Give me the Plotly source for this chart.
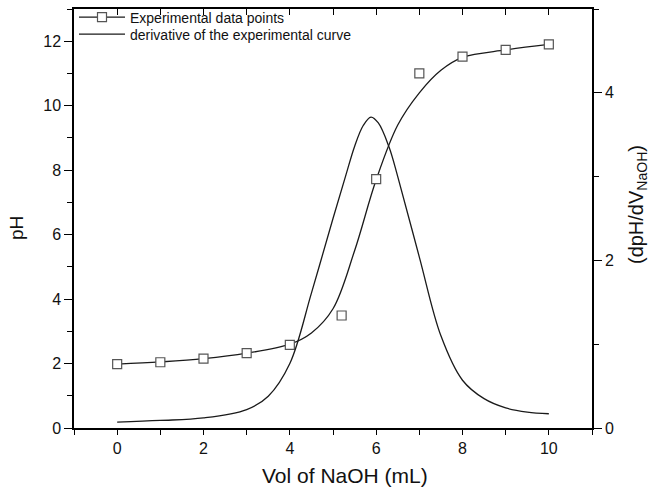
import plotly.graph_objects as go

# Experimental data points
vol_pts = [0, 1, 2, 3, 4, 5.2, 6, 7, 8, 9, 10]
ph_pts = [1.98, 2.04, 2.15, 2.32, 2.58, 3.49, 7.72, 11.0, 11.52, 11.73, 11.9]

# Fitted (smooth) pH curve
vol_fit = [0, 1, 2, 3, 4, 4.5, 5, 5.5, 6, 6.5, 7, 7.5, 8, 9, 10]
ph_fit = [1.98, 2.05, 2.15, 2.32, 2.6, 2.95, 3.7, 5.5, 7.7, 9.4, 10.4, 11.1, 11.5, 11.73, 11.9]

# Derivative curve (right axis)
vol_der = [0, 1, 2, 3, 3.5, 4, 4.5, 5, 5.3, 5.5, 5.7, 5.88, 6.05, 6.3, 6.5, 7, 7.5, 8, 8.5, 9, 9.5, 10]
der = [0.07, 0.09, 0.12, 0.22, 0.38, 0.77, 1.61, 2.5, 3.02, 3.36, 3.61, 3.71, 3.64, 3.35, 3.0, 2.04, 1.1, 0.57, 0.35, 0.24, 0.19, 0.17]

LINE = "#1a1a1a"
FONT = "Liberation Sans, Arial, sans-serif"

fig = go.Figure()

fig.add_trace(go.Scatter(x=vol_fit, y=ph_fit, mode="lines", line=dict(color=LINE, width=1.3, shape="spline"),
                         showlegend=False, hoverinfo="skip"))
fig.add_trace(go.Scatter(x=vol_pts, y=ph_pts, mode="markers",
                         marker=dict(symbol="square", size=9, color="white", line=dict(color="#555555", width=1.2)),
                         showlegend=False))
# legend entries
fig.add_trace(go.Scatter(x=[None], y=[None], mode="lines+markers", name="Experimental data points",
                         line=dict(color=LINE, width=1.3), legend="legend",
                         marker=dict(symbol="square", size=9, color="white", line=dict(color="#555555", width=1.2))))
fig.add_trace(go.Scatter(x=vol_der, y=der, mode="lines", name="derivative of the experimental curve",
                         line=dict(color=LINE, width=1.3, shape="spline"), yaxis="y2", legend="legend2"))

axis_font = dict(family=FONT, size=16, color="#111")
TITLE_FONT = dict(family=FONT, size=21, color="#111")
LEG_FONT = dict(family=FONT, size=14, color="#111")

L, R, T, B = 74, 58, 8.5, 60.5
PW, PH = 650 - L - R, 489 - T - B

def px_x(px):
    return (px - L) / PW

def px_y(py):
    return (489 - B - py) / PH

fig.update_layout(
    width=650, height=489,
    margin=dict(l=L, r=R, t=T, b=B, autoexpand=False),
    paper_bgcolor="white", plot_bgcolor="white",
    font=dict(family=FONT, color="#111"),
    showlegend=True,
    legend=dict(x=0.0, y=px_y(17), xanchor="left", yanchor="middle", bgcolor="rgba(0,0,0,0)",
                font=LEG_FONT, itemwidth=46),
    legend2=dict(x=0.0, y=px_y(34), xanchor="left", yanchor="middle", bgcolor="rgba(0,0,0,0)",
                 font=LEG_FONT, itemwidth=46),
    xaxis=dict(range=[-1, 11], tickmode="linear", tick0=0, dtick=2, ticks="outside", ticklen=5,
               tickwidth=1.2, tickcolor="black", showline=True, linecolor="black", linewidth=1.5,
               showgrid=False, zeroline=False, tickfont=axis_font,
               minor=dict(dtick=1, tick0=0, ticks="outside", ticklen=5, tickwidth=1.2, tickcolor="black")),
    xaxis2=dict(range=[-1, 11], overlaying="x", side="top", tickmode="linear", tick0=0, dtick=1,
                ticks="inside", ticklen=6, tickwidth=1.2, tickcolor="black", showticklabels=False,
                showline=True, linecolor="black", linewidth=1.5, showgrid=False, zeroline=False),
    yaxis=dict(range=[0, 13], tickmode="linear", tick0=0, dtick=2, ticks="outside", ticklen=8,
               tickwidth=1.2, tickcolor="black", showline=True, linecolor="black", linewidth=1.5,
               showgrid=False, zeroline=False, tickfont=axis_font,
               minor=dict(dtick=1, tick0=0, ticks="outside", ticklen=5, tickwidth=1.2, tickcolor="black")),
    yaxis2=dict(range=[0, 5], overlaying="y", side="right", tickmode="linear", tick0=0, dtick=2,
                ticks="outside", ticklen=8, tickwidth=1.2, tickcolor="black", showline=True,
                linecolor="black", linewidth=1.5, showgrid=False, zeroline=False, tickfont=axis_font,
                minor=dict(dtick=1, tick0=0, ticks="outside", ticklen=5, tickwidth=1.2, tickcolor="black")),
    annotations=[
        dict(text="Vol of NaOH (mL)", xref="paper", yref="paper", x=px_x(345), y=px_y(476),
             xanchor="center", yanchor="middle", showarrow=False, font=TITLE_FONT),
        dict(text="pH", xref="paper", yref="paper", x=px_x(17), y=px_y(228), textangle=-90,
             xanchor="center", yanchor="middle", showarrow=False, font=dict(family=FONT, size=19, color="#111")),
        dict(text="(dpH/dV<sub>NaOH</sub>)", xref="paper", yref="paper", x=px_x(637), y=px_y(205),
             textangle=-90, xanchor="center", yanchor="middle", showarrow=False,
             font=dict(family=FONT, size=20, color="#111")),
    ],
)
# dummy trace to activate top axis
fig.add_trace(go.Scatter(x=[None], y=[None], xaxis="x2", showlegend=False, hoverinfo="skip"))

fig.write_html("out.html")
